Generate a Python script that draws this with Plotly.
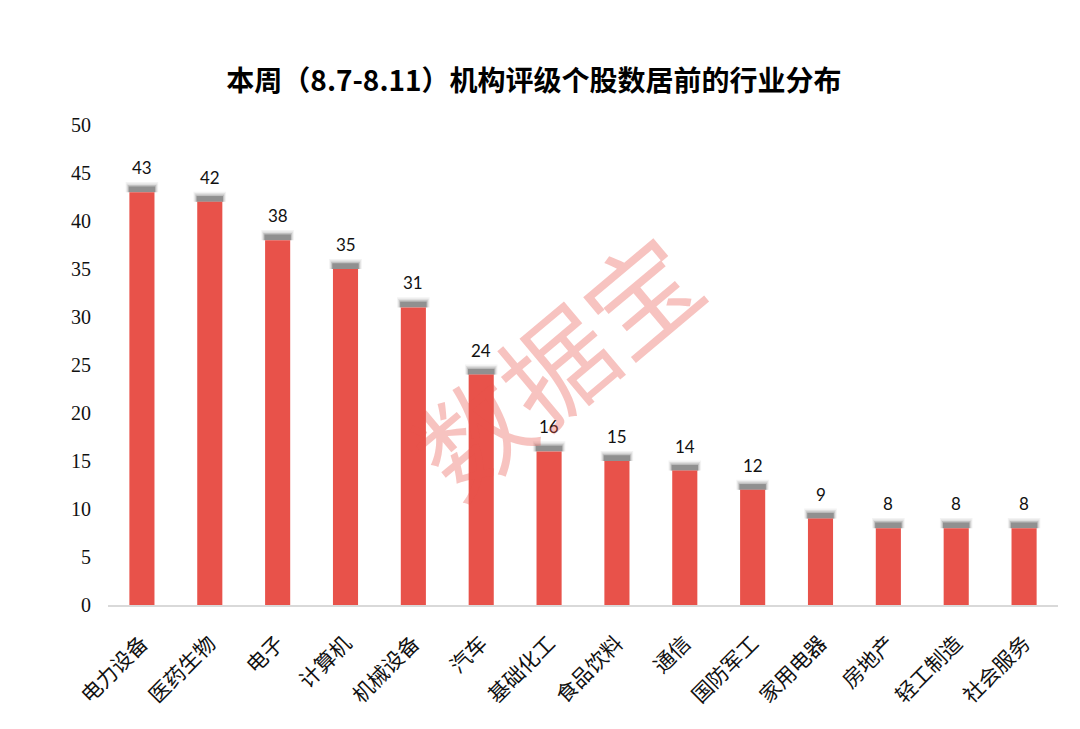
import plotly.graph_objects as go

categories = ["电力设备", "医药生物", "电子", "计算机", "机械设备", "汽车", "基础化工",
              "食品饮料", "通信", "国防军工", "家用电器", "房地产", "轻工制造", "社会服务"]
values = [43, 42, 38, 35, 31, 24, 16, 15, 14, 12, 9, 8, 8, 8]
y_ticks = [0, 5, 10, 15, 20, 25, 30, 35, 40, 45, 50]

title = "本周（8.7-8.11）机构评级个股数居前的行业分布"
watermark = "数据宝"

fig = go.Figure()

# soft grey shadow on top of each bar
for w, h, op in [(0.48, 1.05, 0.07), (0.45, 0.9, 0.12), (0.42, 0.75, 0.22), (0.39, 0.6, 0.45)]:
    fig.add_trace(go.Bar(
        x=categories, y=[h] * len(values), base=values,
        marker=dict(color=f"rgba(85,85,85,{op})", line=dict(width=0)),
        width=w, hoverinfo="skip", showlegend=False,
    ))

fig.add_trace(go.Bar(
    x=categories, y=values,
    marker=dict(color="#E8524A", line=dict(width=0)),
    width=0.37, hoverinfo="x+y", showlegend=False,
))

for c, v in zip(categories, values):
    fig.add_annotation(x=c, y=v, text=str(v), showarrow=False, yanchor="bottom",
                       yshift=12,
                       font=dict(family="Lato, Open Sans, sans-serif", size=17, color="#111111"))

fig.update_layout(
    width=1080, height=729,
    paper_bgcolor="white", plot_bgcolor="white",
    barmode="overlay",
    margin=dict(l=100, r=30, t=117, b=132),
    title=dict(text=f"<b>{title}</b>", x=0.487, xanchor="center", y=0.9, yanchor="middle",
               font=dict(family="Noto Sans CJK SC", size=28, color="#000000")),
)

fig.update_yaxes(range=[0, 50], tickvals=y_ticks, showgrid=False, zeroline=False,
                 showline=False, ticks="", ticklabelstandoff=16,
                 tickfont=dict(family="Liberation Serif", size=20, color="#111111"))
fig.update_xaxes(showgrid=False, showline=True, linecolor="#d9d9d9", linewidth=1.5,
                 ticks="", tickangle=-45, ticklabelstandoff=16,
                 tickfont=dict(family="Noto Sans CJK SC", size=21, color="#111111"))

fig.add_annotation(
    text=watermark, xref="paper", yref="paper", x=0.469, y=0.506,
    showarrow=False, textangle=-40,
    font=dict(family="Noto Sans CJK SC", size=110, color="rgba(232,82,74,0.35)"),
)

fig.write_html("out.html")
